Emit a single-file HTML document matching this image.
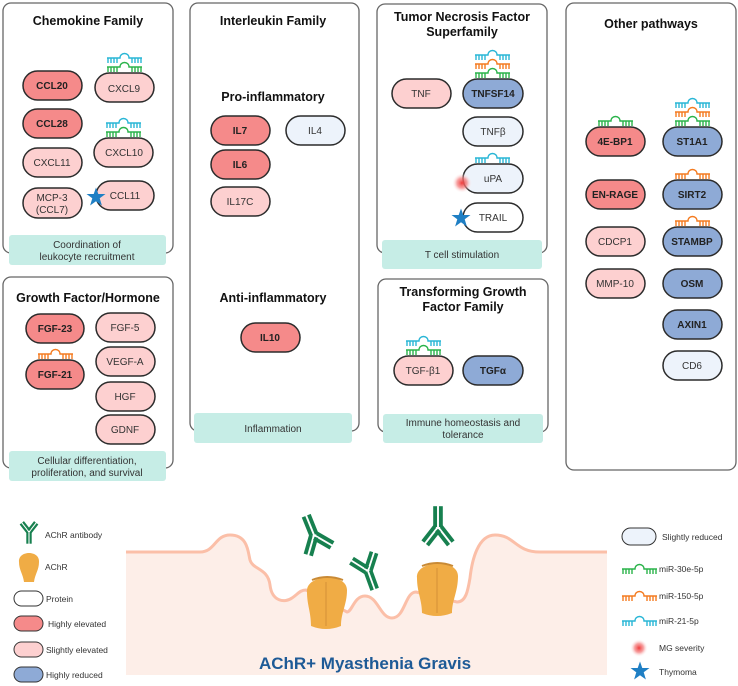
<!DOCTYPE html>
<html><head><meta charset="utf-8"><style>
html,body{margin:0;padding:0;background:#fff;}
svg{display:block;font-family:"Liberation Sans",Arial,sans-serif;}
.t{font-size:12.5px;font-weight:bold;fill:#111;text-anchor:middle;}
.p{font-size:10px;fill:#333;text-anchor:middle;}
.b{font-weight:bold;fill:#222;}
.tl{font-size:10px;fill:#333;text-anchor:middle;}
.lg{font-size:8.5px;fill:#333;}
</style></head><body>
<svg width="738" height="686" viewBox="0 0 738 686" xmlns="http://www.w3.org/2000/svg">
<defs>
<g id="mir" fill="none" stroke-width="1.4">
<path d="M0,5 H13 C13,-1 22,-1 22,5 H35"/>
<path d="M1,5V10M4,5V10M7,5V10M10,5V10M25,5V10M28,5V10M31,5V10M34,5V10"/>
</g>
<g id="ab" fill="#17804f">
<rect x="-3" y="0" width="2.4" height="13"/><rect x="0.6" y="0" width="2.4" height="13"/>
<g transform="rotate(38)"><rect x="-3" y="-13" width="2.4" height="12"/><rect x="0.6" y="-13" width="2.4" height="12"/></g>
<g transform="rotate(-38)"><rect x="-3" y="-13" width="2.4" height="12"/><rect x="0.6" y="-13" width="2.4" height="12"/></g>
</g>
<radialGradient id="rg"><stop offset="0" stop-color="#f03a3a"/><stop offset="0.5" stop-color="#f47a7a" stop-opacity="0.7"/><stop offset="1" stop-color="#fff" stop-opacity="0"/></radialGradient>
<symbol id="star" viewBox="-10 -10 20 20"><polygon points="0,-9.5 2.3,-3 9.5,-3 3.7,1.3 5.9,8.5 0,4.2 -5.9,8.5 -3.7,1.3 -9.5,-3 -2.3,-3" fill="#1f7fc4"/></symbol>
</defs>

<!-- boxes -->
<g fill="#fff" stroke="#666" stroke-width="1.3">
<rect x="3" y="3" width="170" height="250" rx="8"/>
<rect x="190" y="3" width="169" height="428" rx="8"/>
<rect x="377" y="4" width="170" height="249" rx="8"/>
<rect x="566" y="3" width="170" height="467" rx="8"/>
<rect x="3" y="277" width="170" height="191" rx="8"/>
<rect x="378" y="279" width="170" height="153" rx="8"/>
</g>
<g fill="#c6ede6">
<rect x="9" y="235" width="157" height="30" rx="3"/>
<rect x="194" y="413" width="158" height="30" rx="3"/>
<rect x="382" y="240" width="160" height="29" rx="3"/>
<rect x="9" y="451" width="157" height="30" rx="3"/>
<rect x="383" y="414" width="160" height="29" rx="3"/>
</g>
<text class="tl" x="87" y="248">Coordination of</text>
<text class="tl" x="87" y="260">leukocyte recruitment</text>
<text class="tl" x="273" y="432">Inflammation</text>
<text class="tl" x="462" y="258">T cell stimulation</text>
<text class="tl" x="87" y="464">Cellular differentiation,</text>
<text class="tl" x="87" y="476">proliferation, and survival</text>
<text class="tl" x="463" y="426">Immune homeostasis and</text>
<text class="tl" x="463" y="438">tolerance</text>

<text class="t" x="88" y="25">Chemokine Family</text>
<text class="t" x="273" y="25">Interleukin Family</text>
<text class="t" x="273" y="101">Pro-inflammatory</text>
<text class="t" x="273" y="302">Anti-inflammatory</text>
<text class="t" x="462" y="21">Tumor Necrosis Factor</text>
<text class="t" x="462" y="36">Superfamily</text>
<text class="t" x="651" y="28">Other pathways</text>
<text class="t" x="88" y="302">Growth Factor/Hormone</text>
<text class="t" x="463" y="296">Transforming Growth</text>
<text class="t" x="463" y="311">Factor Family</text>

<!-- pills -->
<g stroke="#2b2b2b" stroke-width="1.5">
<rect x="23" y="71" width="59" height="29" rx="14.5" fill="#f58a8a"/>
<rect x="95" y="73" width="59" height="29" rx="14.5" fill="#fdd0d0"/>
<rect x="23" y="109" width="59" height="29" rx="14.5" fill="#f58a8a"/>
<rect x="94" y="138" width="59" height="29" rx="14.5" fill="#fdd0d0"/>
<rect x="23" y="148" width="59" height="29" rx="14.5" fill="#fdd0d0"/>
<rect x="23" y="188" width="59" height="30" rx="15" fill="#fdd0d0"/>
<rect x="96" y="181" width="58" height="29" rx="14.5" fill="#fdd0d0"/>

<rect x="211" y="116" width="59" height="29" rx="14.5" fill="#f58a8a"/>
<rect x="286" y="116" width="59" height="29" rx="14.5" fill="#edf3fb"/>
<rect x="211" y="150" width="59" height="29" rx="14.5" fill="#f58a8a"/>
<rect x="211" y="187" width="59" height="29" rx="14.5" fill="#fdd0d0"/>
<rect x="241" y="323" width="59" height="29" rx="14.5" fill="#f58a8a"/>

<rect x="392" y="79" width="59" height="29" rx="14.5" fill="#fdd0d0"/>
<rect x="463" y="79" width="60" height="29" rx="14.5" fill="#8eaad6"/>
<rect x="463" y="117" width="60" height="29" rx="14.5" fill="#edf3fb"/>
<rect x="463" y="164" width="60" height="29" rx="14.5" fill="#edf3fb"/>
<rect x="463" y="203" width="60" height="29" rx="14.5" fill="#fff"/>

<rect x="586" y="127" width="59" height="29" rx="14.5" fill="#f58a8a"/>
<rect x="663" y="127" width="59" height="29" rx="14.5" fill="#8eaad6"/>
<rect x="586" y="180" width="59" height="29" rx="14.5" fill="#f58a8a"/>
<rect x="663" y="180" width="59" height="29" rx="14.5" fill="#8eaad6"/>
<rect x="586" y="227" width="59" height="29" rx="14.5" fill="#fdd0d0"/>
<rect x="663" y="227" width="59" height="29" rx="14.5" fill="#8eaad6"/>
<rect x="586" y="269" width="59" height="29" rx="14.5" fill="#fdd0d0"/>
<rect x="663" y="269" width="59" height="29" rx="14.5" fill="#8eaad6"/>
<rect x="663" y="310" width="59" height="29" rx="14.5" fill="#8eaad6"/>
<rect x="663" y="351" width="59" height="29" rx="14.5" fill="#edf3fb"/>

<rect x="26" y="314" width="58" height="29" rx="14.5" fill="#f58a8a"/>
<rect x="96" y="313" width="59" height="29" rx="14.5" fill="#fdd0d0"/>
<rect x="26" y="360" width="58" height="29" rx="14.5" fill="#f58a8a"/>
<rect x="96" y="347" width="59" height="29" rx="14.5" fill="#fdd0d0"/>
<rect x="96" y="382" width="59" height="29" rx="14.5" fill="#fdd0d0"/>
<rect x="96" y="415" width="59" height="29" rx="14.5" fill="#fdd0d0"/>

<rect x="394" y="356" width="59" height="29" rx="14.5" fill="#fdd0d0"/>
<rect x="463" y="356" width="60" height="29" rx="14.5" fill="#8eaad6"/>
</g>
<g class="p">
<text class="p b" x="52" y="89">CCL20</text>
<text class="p" x="124" y="92">CXCL9</text>
<text class="p b" x="52" y="127">CCL28</text>
<text class="p" x="124" y="156">CXCL10</text>
<text class="p" x="52" y="166">CXCL11</text>
<text class="p" x="52" y="201">MCP-3</text>
<text class="p" x="52" y="213">(CCL7)</text>
<text class="p" x="125" y="199">CCL11</text>
<text class="p b" x="240" y="134">IL7</text>
<text class="p" x="315" y="134">IL4</text>
<text class="p b" x="240" y="168">IL6</text>
<text class="p" x="240" y="205">IL17C</text>
<text class="p b" x="270" y="341">IL10</text>
<text class="p" x="421" y="97">TNF</text>
<text class="p b" x="493" y="97">TNFSF14</text>
<text class="p" x="493" y="135">TNFβ</text>
<text class="p" x="493" y="182">uPA</text>
<text class="p" x="493" y="221">TRAIL</text>
<text class="p b" x="615" y="145">4E-BP1</text>
<text class="p b" x="692" y="145">ST1A1</text>
<text class="p b" x="615" y="198">EN-RAGE</text>
<text class="p b" x="692" y="198">SIRT2</text>
<text class="p" x="615" y="245">CDCP1</text>
<text class="p b" x="692" y="245">STAMBP</text>
<text class="p" x="615" y="287">MMP-10</text>
<text class="p b" x="692" y="287">OSM</text>
<text class="p b" x="692" y="328">AXIN1</text>
<text class="p" x="692" y="369">CD6</text>
<text class="p b" x="55" y="332">FGF-23</text>
<text class="p" x="125" y="331">FGF-5</text>
<text class="p b" x="55" y="378">FGF-21</text>
<text class="p" x="125" y="365">VEGF-A</text>
<text class="p" x="125" y="400">HGF</text>
<text class="p" x="125" y="433">GDNF</text>
<text class="p" x="423" y="374">TGF-β1</text>
<text class="p b" x="493" y="374">TGFα</text>
</g>

<!-- miRNAs -->
<use href="#mir" x="107" y="53" stroke="#29b6d6"/>
<use href="#mir" x="107" y="62" stroke="#2ab34a"/>
<use href="#mir" x="106" y="118" stroke="#29b6d6"/>
<use href="#mir" x="106" y="127" stroke="#2ab34a"/>
<use href="#mir" x="475" y="50" stroke="#29b6d6"/>
<use href="#mir" x="475" y="59" stroke="#f47b20"/>
<use href="#mir" x="475" y="68" stroke="#2ab34a"/>
<use href="#mir" x="475" y="153" stroke="#29b6d6"/>
<use href="#mir" x="598" y="116" stroke="#2ab34a"/>
<use href="#mir" x="675" y="98" stroke="#29b6d6"/>
<use href="#mir" x="675" y="107" stroke="#f47b20"/>
<use href="#mir" x="675" y="116" stroke="#2ab34a"/>
<use href="#mir" x="675" y="169" stroke="#f47b20"/>
<use href="#mir" x="675" y="216" stroke="#f47b20"/>
<use href="#mir" x="38" y="349" stroke="#f47b20"/>
<use href="#mir" x="406" y="336" stroke="#29b6d6"/>
<use href="#mir" x="406" y="345" stroke="#2ab34a"/>

<use href="#star" x="86" y="187" width="20" height="20"/>
<use href="#star" x="451" y="208" width="20" height="20"/>
<circle cx="462" cy="183" r="10" fill="url(#rg)"/>

<!-- membrane -->
<path d="M126,552 H200 C215,552 215,535 230,535 C248,535 248,552 250,560 C253,570 268,568 270,585 C272,602 285,603 292,598 C298,594 300,590 306,590 L347,612 C352,612 354,596 365,596 C378,596 380,618 392,618 C405,618 405,592 416,592 L457,602 C466,602 468,590 470,578 C472,560 478,535 495,535 C515,535 515,552 540,552 H607 V675 H126 Z" fill="#fdeee8"/>
<path d="M126,552 H200 C215,552 215,535 230,535 C248,535 248,552 250,560 C253,570 268,568 270,585 C272,602 285,603 292,598 C298,594 300,590 306,590 L347,612 C352,612 354,596 365,596 C378,596 380,618 392,618 C405,618 405,592 416,592 L457,602 C466,602 468,590 470,578 C472,560 478,535 495,535 C515,535 515,552 540,552 H607" fill="none" stroke="#fbbfa8" stroke-width="3"/>
<!-- AChRs -->
<g>
<path d="M307,592 C305,574 347,572 347,590 C347,605 341,612 341,626 Q326,632 311,626 C311,612 307,605 307,592 Z" fill="#f0ac45"/>
<path d="M312,580 Q327,574 343,580" stroke="#c98a35" stroke-width="2" fill="none"/>
<path d="M326,582 V626" stroke="#d9953a" stroke-width="1.2"/>
<path d="M417,578 C415,560 458,558 458,576 C458,592 452,600 452,613 Q437,619 422,613 C422,600 417,592 417,578 Z" fill="#f0ac45"/>
<path d="M422,566 Q437,560 453,566" stroke="#c98a35" stroke-width="2" fill="none"/>
<path d="M437,568 V613" stroke="#d9953a" stroke-width="1.2"/>
</g>
<use href="#ab" transform="translate(314,535) rotate(158) scale(1.6)"/>
<use href="#ab" transform="translate(368,571) rotate(-20) scale(1.5)"/>
<use href="#ab" transform="translate(438,527) rotate(180) scale(1.6)"/>
<text x="365" y="669" text-anchor="middle" font-size="17" font-weight="bold" fill="#1e5a96">AChR+ Myasthenia Gravis</text>

<!-- legend left -->
<use href="#ab" transform="translate(29,532) scale(0.9)"/>
<text class="lg" x="45" y="538">AChR antibody</text>
<path d="M19,562 C18,550 40,550 39,562 C39,570 35,574 34,582 H24 C23,574 19,570 19,562 Z" fill="#f0ac45"/>
<text class="lg" x="45" y="570">AChR</text>
<g stroke="#333" stroke-width="1">
<rect x="14" y="591" width="29" height="15" rx="7.5" fill="#fff"/>
<rect x="14" y="616" width="29" height="15" rx="7.5" fill="#f58a8a"/>
<rect x="14" y="642" width="29" height="15" rx="7.5" fill="#fdd0d0"/>
<rect x="14" y="667" width="29" height="15" rx="7.5" fill="#8eaad6"/>
<rect x="622" y="528" width="34" height="17" rx="8.5" fill="#edf3fb"/>
</g>
<text class="lg" x="46" y="602">Protein</text>
<text class="lg" x="48" y="627">Highly elevated</text>
<text class="lg" x="46" y="653">Slightly elevated</text>
<text class="lg" x="46" y="678">Highly reduced</text>

<!-- legend right -->
<text class="lg" x="662" y="540">Slightly reduced</text>
<use href="#mir" x="622" y="564" stroke="#2ab34a"/>
<use href="#mir" x="622" y="591" stroke="#f47b20"/>
<use href="#mir" x="622" y="616" stroke="#29b6d6"/>
<text class="lg" x="659" y="572">miR-30e-5p</text>
<text class="lg" x="659" y="599">miR-150-5p</text>
<text class="lg" x="659" y="624">miR-21-5p</text>
<circle cx="639" cy="648" r="9" fill="url(#rg)"/>
<text class="lg" x="659" y="651">MG severity</text>
<use href="#star" x="630" y="661" width="20" height="20"/>
<text class="lg" x="659" y="675">Thymoma</text>
</svg>
</body></html>
